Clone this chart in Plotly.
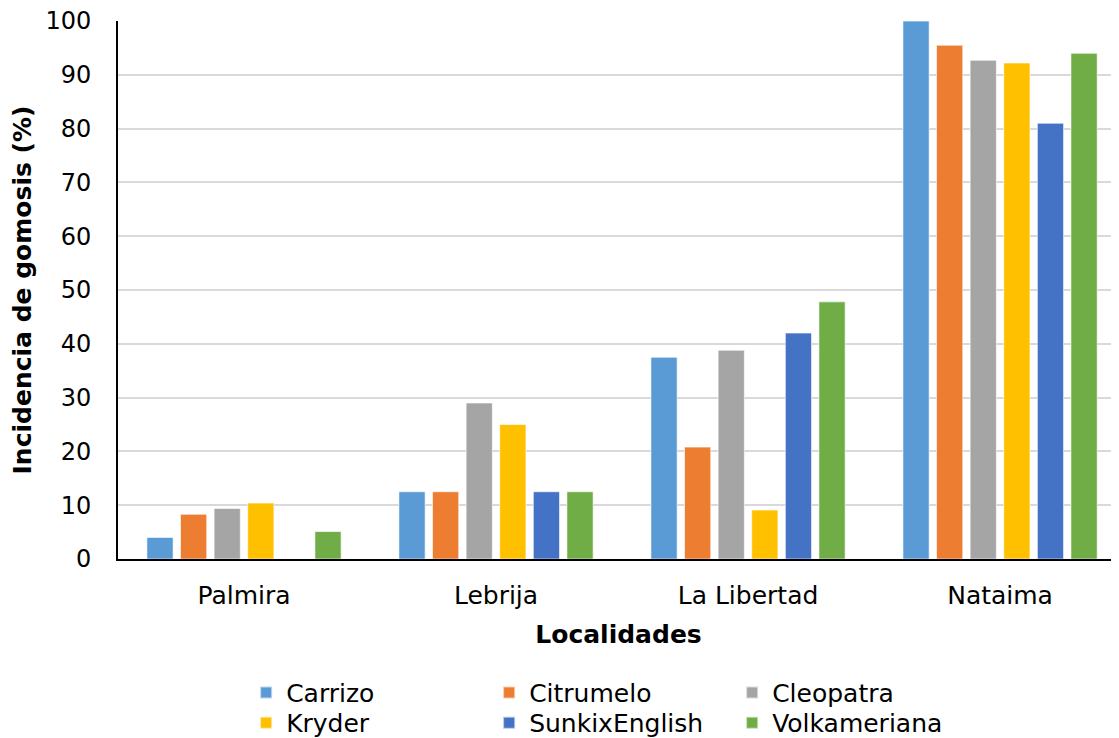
import plotly.graph_objects as go

localidades = ["Palmira", "Lebrija", "La Libertad", "Nataima"]
series_names = ["Carrizo", "Citrumelo", "Cleopatra", "Kryder", "SunkixEnglish", "Volkameriana"]
carrizo = [4.0, 12.5, 37.5, 100.0]
citrumelo = [8.3, 12.5, 20.8, 95.5]
cleopatra = [9.4, 29.0, 38.8, 92.7]
kryder = [10.4, 25.0, 9.1, 92.2]
sunkix = [0.0, 12.5, 42.0, 81.0]
volkameriana = [5.1, 12.5, 47.8, 94.0]
y_ticks = [0, 10, 20, 30, 40, 50, 60, 70, 80, 90, 100]

values = [carrizo, citrumelo, cleopatra, kryder, sunkix, volkameriana]
colors = ["#5B9BD5", "#ED7D31", "#A5A5A5", "#FFC000", "#4472C4", "#70AD47"]
legend_rows = ["legend", "legend", "legend", "legend2", "legend2", "legend2"]

FONT = "DejaVu Sans"
FS = 24
FS2 = 25

fig = go.Figure()
for name, vals, col, lg in zip(series_names, values, colors, legend_rows):
    fig.add_trace(go.Bar(
        name=name, x=localidades, y=vals, legend=lg,
        marker=dict(color=col, line=dict(color="rgba(255,255,255,0.6)", width=1)),
    ))

leg_common = dict(
    orientation="h", xanchor="left", yanchor="top",
    entrywidth=198, entrywidthmode="pixels",
    font=dict(family=FONT, size=FS2, color="#000000"),
    itemsizing="constant", tracegroupgap=0, bgcolor="rgba(0,0,0,0)",
)

fig.update_layout(
    width=1111, height=730,
    margin=dict(l=110, r=0, t=13, b=179, autoexpand=False),
    paper_bgcolor="white", plot_bgcolor="white",
    barmode="group", bargap=0.2, bargroupgap=0.22,
    font=dict(family=FONT, size=FS, color="#000000"),
    showlegend=True,
    legend=dict(x=0.128, y=-0.206, **leg_common),
    legend2=dict(x=0.128, y=-0.262, **leg_common),
)

fig.update_xaxes(
    type="category", automargin=False,
    range=[-0.5, 3.472],
    showline=True, linecolor="#000000", linewidth=2,
    showgrid=False, ticks="", ticklabelstandoff=13,
    ticklabeloverflow="allow",
    tickfont=dict(family=FONT, size=FS2, color="#000000"),
    title=dict(text="<b>Localidades</b>", font=dict(family=FONT, size=FS2, color="#000000"), standoff=16),
)
fig.update_yaxes(
    range=[0, 100.01], tickvals=y_ticks, automargin=False,
    showline=True, linecolor="#000000", linewidth=2,
    showgrid=True, gridcolor="#D9D9D9", gridwidth=1.5,
    zeroline=False, ticks="", ticklabelstandoff=20,
    ticklabeloverflow="allow",
    tickfont=dict(family=FONT, size=FS, color="#000000"),
    title=dict(text="<b>Incidencia de gomosis (%)</b>", font=dict(family=FONT, size=FS2, color="#000000"), standoff=8),
)

fig.write_html("out.html")
